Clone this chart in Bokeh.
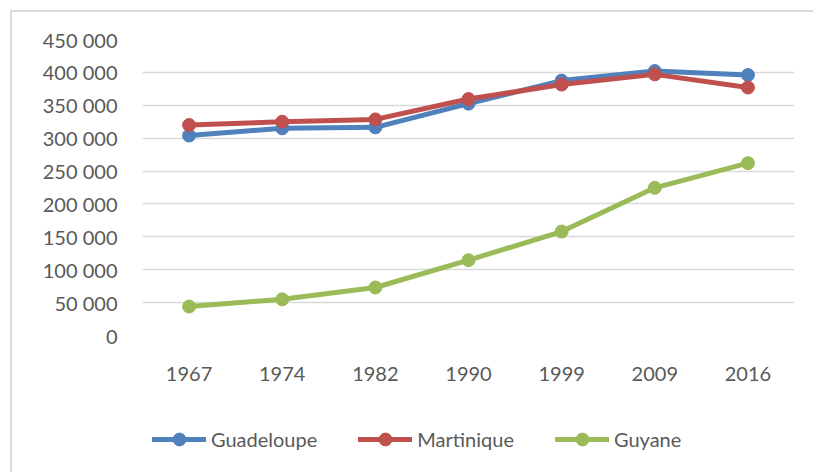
from bokeh.plotting import figure
from bokeh.layouts import column
from bokeh.models import FactorRange, Range1d, FixedTicker, Legend, LegendItem
from bokeh.embed import file_html
from bokeh.resources import INLINE

years = ["1967", "1974", "1982", "1990", "1999", "2009", "2016"]
guadeloupe = [304000, 315000, 316500, 352500, 387500, 402000, 396000]
martinique = [320000, 325000, 328500, 359500, 381500, 397000, 377000]
guyane = [44000, 55000, 73000, 114500, 158000, 224500, 262000]
y_ticks = [0, 50000, 100000, 150000, 200000, 250000, 300000, 350000, 400000, 450000]
y_tick_labels = ["0", "50 000", "100 000", "150 000", "200 000", "250 000",
                 "300 000", "350 000", "400 000", "450 000"]
series_names = ["Guadeloupe", "Martinique", "Guyane"]
series_colors = ["#4F81BD", "#C0504D", "#9BBB59"]

FONT = "Lato"
TXT = "#595959"

p = figure(x_range=FactorRange(*years), y_range=Range1d(0, 450000),
           width=813, height=400, output_backend="svg", toolbar_location=None,
           min_border_left=142, min_border_top=39, min_border_right=19,
           min_border_bottom=65)
p.outline_line_color = None
p.background_fill_color = "white"
p.border_fill_color = None

p.xgrid.grid_line_color = None
p.ygrid.grid_line_color = "#D9D9D9"
p.ygrid.grid_line_width = 1.5

p.yaxis.ticker = FixedTicker(ticks=y_ticks)
p.yaxis.major_label_overrides = {t: l for t, l in zip(y_ticks, y_tick_labels)}
for ax in (p.xaxis, p.yaxis):
    ax.axis_line_color = None
    ax.major_tick_line_color = None
    ax.minor_tick_line_color = None
    ax.major_tick_out = 0
    ax.major_tick_in = 0
    ax.major_label_text_font = FONT
    ax.major_label_text_font_size = "20px"
    ax.major_label_text_color = TXT
p.yaxis.major_label_standoff = 25
p.xaxis.major_label_standoff = 31

for name, vals, col in zip(series_names, [guadeloupe, martinique, guyane], series_colors):
    p.line(years, vals, line_color=col, line_width=5, line_join="round", line_cap="round")
    p.scatter(years, vals, size=13, fill_color=col, line_color=col)

# legend strip below the chart; its renderers sit outside the visible range
p2 = figure(width=813, height=72, output_backend="svg", toolbar_location=None,
            x_range=Range1d(0, 1), y_range=Range1d(0, 1),
            min_border=0)
p2.axis.visible = False
p2.grid.visible = False
p2.outline_line_color = None
p2.background_fill_color = None
p2.border_fill_color = None
items = []
for name, col in zip(series_names, series_colors):
    l = p2.line(x=[-5, -4], y=[-5, -4], line_color=col, line_width=5, line_cap="round")
    s = p2.scatter(x=[-5], y=[-5], size=13, fill_color=col, line_color=col)
    items.append(LegendItem(label=name, renderers=[l, s]))
legend = Legend(items=items, orientation="horizontal", location=(10, 17),
                label_text_font=FONT, label_text_font_size="20px", label_text_color=TXT,
                glyph_width=54, glyph_height=32, label_height=24, label_standoff=5,
                spacing=41, padding=0, margin=0, border_line_color=None,
                background_fill_alpha=0)
p2.add_layout(legend, "center")

layout = column(p, p2, spacing=0)
layout.styles = {
    "background-color": "white",
    "background-image": "linear-gradient(#D9D9D9, #D9D9D9), linear-gradient(#D9D9D9, #D9D9D9)",
    "background-position": "10px 10px, 10px 10px",
    "background-size": "2px 100%, 100% 2px",
    "background-repeat": "no-repeat",
}
open("out.html", "w").write(file_html(layout, INLINE))
